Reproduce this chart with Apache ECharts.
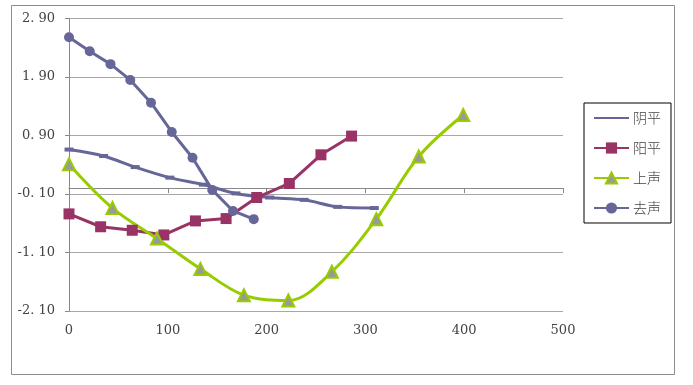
<!DOCTYPE html>
<html><head><meta charset="utf-8">
<script src="https://cdn.jsdelivr.net/npm/echarts@6/dist/echarts.min.js"></script>
<style>html,body{margin:0;padding:0;background:#fff}#c{width:693px;height:385px}</style>
</head><body><div id="c"></div>
<script>
const seriesNames = ['阴平','阳平','上声','去声'];
const yinpingX = [0,35,67,102,136,169,203,238,272,309];
const yinpingY = [0.66,0.55,0.36,0.18,0.06,-0.09,-0.16,-0.20,-0.32,-0.34];
const yangpingX = [0,32,64,96,128,159,190,223,255,286];
const yangpingY = [-0.44,-0.66,-0.72,-0.80,-0.56,-0.52,-0.16,0.08,0.57,0.89];
const shangX = [0,44,89,133,177,222,266,311,354,399];
const shangY = [0.41,-0.34,-0.86,-1.38,-1.83,-1.92,-1.43,-0.53,0.54,1.25];
const quX = [0,21,42,62,83,104,125,145,166,187];
const quY = [2.58,2.34,2.12,1.85,1.46,0.96,0.52,-0.03,-0.39,-0.53];
const yTickLabels = ['-2. 10','-1. 10','-0. 10','0. 90','1. 90','2. 90'];
const xTickLabels = ['0','100','200','300','400','500'];

const pairs = (xs, ys) => xs.map((x, i) => [x, ys[i]]);
const font = "'DejaVu Serif', serif";
const chart = echarts.init(document.getElementById('c'), null, {renderer: 'canvas'});
chart.setOption({
  animation: false,
  backgroundColor: '#fff',
  graphic: [{type: 'rect', shape: {x: 11.5, y: 5.5, width: 663, height: 369}, style: {fill: 'none', stroke: '#8c8c8c', lineWidth: 1}, z: -1}],
  grid: {left: 69, right: 130, top: 18.5, bottom: 74},
  legend: {
    orient: 'vertical', left: 584, top: 103,
    padding: [8, 10, 8, 9], itemWidth: 35, itemHeight: 14, itemGap: 16,
    borderColor: '#000', borderWidth: 1, backgroundColor: '#fff',
    textStyle: {fontFamily: "'Noto Sans CJK SC'", fontSize: 14, fontWeight: 300, color: '#444', padding: [0,0,0,-1]},
    data: [
      {name: '阴平', itemStyle: {opacity: 0}},
      {name: '阳平'}, {name: '上声'}, {name: '去声'}
    ]
  },
  xAxis: {
    type: 'value', min: 0, max: 500, interval: 100,
    axisLine: {lineStyle: {color: '#888'}},
    axisTick: {show: true, length: 5, lineStyle: {color: '#888'}},
    splitLine: {show: false},
    axisLabel: {margin: 13, color: '#444', fontFamily: font, fontSize: 13,
      formatter: (v) => xTickLabels[Math.round(v / 100)]}
  },
  yAxis: [
    {type: 'value', min: -2.1, max: 2.9, show: false},
    {type: 'value', min: 0, max: 5, interval: 1, position: 'left',
      axisLine: {show: true, lineStyle: {color: '#888'}},
      axisTick: {show: true, length: 4, lineStyle: {color: '#888'}},
      splitLine: {show: true, lineStyle: {color: '#a8a8a8'}},
      axisLabel: {margin: 14, color: '#444', fontFamily: font, fontSize: 13,
        formatter: (v) => yTickLabels[Math.round(v)]}}
  ],
  series: [
    {name: '阴平', type: 'line', yAxisIndex: 0, data: pairs(yinpingX, yinpingY), smooth: 0.3,
      symbol: 'rect', symbolSize: [9, 4], itemStyle: {color: '#666699'}, lineStyle: {width: 3, color: '#666699'}},
    {name: '阳平', type: 'line', yAxisIndex: 0, data: pairs(yangpingX, yangpingY),
      symbol: 'rect', symbolSize: 11, itemStyle: {color: '#993366'}, lineStyle: {width: 3, color: '#993366'}},
    {name: '上声', type: 'line', yAxisIndex: 0, data: pairs(shangX, shangY), smooth: 0.35,
      symbol: 'triangle', symbolSize: 12,
      itemStyle: {color: '#999999', borderColor: '#99cc00', borderWidth: 2},
      lineStyle: {width: 3, color: '#99cc00'}},
    {name: '去声', type: 'line', yAxisIndex: 0, data: pairs(quX, quY),
      symbol: 'circle', symbolSize: 10, itemStyle: {color: '#666699'}, lineStyle: {width: 3, color: '#666699'}}
  ]
});
</script></body></html>
